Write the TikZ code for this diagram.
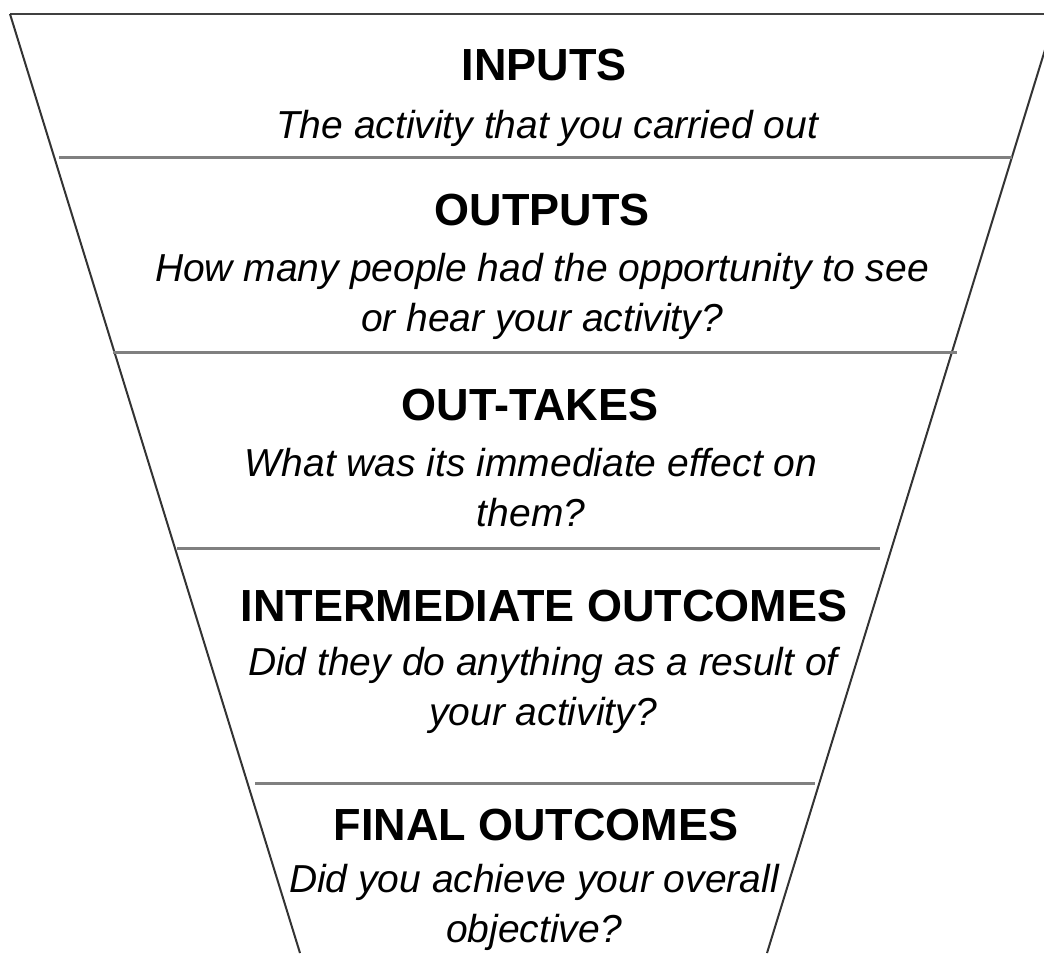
\documentclass[tikz,border=0pt]{standalone}
\usepackage{fontspec}
\setmainfont{Liberation Sans}
\begin{document}
\begin{tikzpicture}[x=1pt,y=-1pt,
  title/.style={font=\fontsize{45}{54}\selectfont\bfseries, inner sep=0pt, anchor=base},
  sub/.style={font=\fontsize{39}{50}\selectfont\itshape, inner sep=0pt, anchor=base, align=center},
  edge/.style={draw=black!80, line width=2pt},
  band/.style={draw=black!50, line width=3pt},
  topline/.style={draw=black!75, line width=2.5pt}]
\useasboundingbox (0,0) rectangle (1044,953);
\clip (0,0) rectangle (1044,953);
% funnel outline
\coordinate (tl) at (10,14);
\coordinate (tr) at (1044,14);
\coordinate (bl) at (300,953);
\coordinate (rt) at (1056,14);
\coordinate (br) at (767,953);
\draw[topline] (tl) -- (tr);
\draw[edge] (tl) -- (bl);
\draw[edge] (rt) -- (br);
% band separators
\coordinate (s1l) at (59,157);  \coordinate (s1r) at (1012,157);
\coordinate (s2l) at (113,352); \coordinate (s2r) at (957,352);
\coordinate (s3l) at (177,548); \coordinate (s3r) at (880,548);
\coordinate (s4l) at (255,783); \coordinate (s4r) at (815,783);
\draw[band] (s1l) -- (s1r);
\draw[band] (s2l) -- (s2r);
\draw[band] (s3l) -- (s3r);
\draw[band] (s4l) -- (s4r);
% texts (multi-line nodes: anchor base = last line's baseline)
\node[title] (t1) at (544,80) {INPUTS};
\node[sub] (d1) at (547,138) {The activity that you carried out};
\node[title] (t2) at (542,225) {OUTPUTS};
\node[sub] (d2) at (542,331) {How many people had the opportunity to see\\or hear your activity?};
\node[title] (t3) at (530,420) {OUT-TAKES};
\node[sub] (d3) at (531,526) {What was its immediate effect on\\them?};
\node[title] (t4) at (544,621) {INTERMEDIATE OUTCOMES};
\node[sub] (d4) at (543,725) {Did they do anything as a result of\\your activity?};
\node[title] (t5) at (536,840) {FINAL OUTCOMES};
\node[sub] (d5) at (534,942) {Did you achieve your overall\\objective?};
\end{tikzpicture}
\end{document}
